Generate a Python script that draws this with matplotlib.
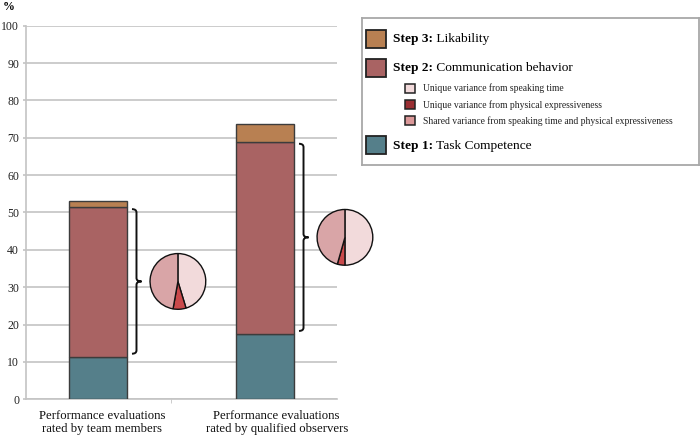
import numpy as np
import matplotlib
matplotlib.use("Agg")
import matplotlib.pyplot as plt
from matplotlib.path import Path
from matplotlib.patches import PathPatch, Rectangle

plt.rcParams['font.family'] = ['Liberation Serif', 'DejaVu Serif']

# data
categories = ["Performance evaluations\nrated by team members",
              "Performance evaluations\nrated by qualified observers"]
step1 = [11.3, 17.4]   # task competence
step2 = [40.2, 51.6]   # communication behavior
step3 = [1.5, 4.6]     # likability
speaking_unique = [45.3, 50.0]
physical_unique = [7.5, 4.4]
shared_variance = [47.2, 45.6]
yticks = [0, 10, 20, 30, 40, 50, 60, 70, 80, 90, 100]

c_step1 = '#557f8a'
c_step2 = '#a96363'
c_step3 = '#b88052'
c_speak = '#f2dadb'
c_phys = '#c9494b'
c_shared = '#d9a5a7'
c_phys_leg = '#9a2f33'
c_shared_leg = '#db9899'
edge = '#3c3c3c'

W, H = 700, 436
fig = plt.figure(figsize=(W / 100, H / 100), dpi=100)
ax = fig.add_axes([26 / W, 1 - 399.3 / H, (337 - 26) / W, (399.3 - 25.7) / H])

x = np.arange(len(categories))
bw = 0.347
s1 = np.array(step1)
s2 = np.array(step2)
s3 = np.array(step3)
ax.bar(x, s1, bw, color=c_step1, edgecolor=edge, linewidth=1.0, zorder=3)
ax.bar(x, s2, bw, bottom=s1, color=c_step2, edgecolor=edge, linewidth=1.0, zorder=3)
ax.bar(x, s3, bw, bottom=s1 + s2, color=c_step3, edgecolor=edge, linewidth=1.0, zorder=3)

ax.set_xlim(-0.431, 1.431)
ax.set_ylim(0, 100)
ax.set_yticks(yticks)
ax.tick_params(axis='y', length=2.5, width=1.2, color='#c4c4c4', pad=2.5,
               labelsize=8.5, labelcolor='#222222')
ax.set_xticks(x + np.array([0.025, 0.07]))
ax.set_xticklabels(categories, fontsize=9.2, linespacing=1.05, color='#111111')
ax.tick_params(axis='x', length=0, pad=8)
ax.set_xticks([0.44], minor=True)
ax.tick_params(axis='x', which='minor', length=3, color='#c4c4c4', direction='out')
ax.grid(axis='y', color='#c8c8c8', linewidth=1.3, zorder=0)
for side in ['top', 'right']:
    ax.spines[side].set_visible(False)
ax.spines['left'].set_color('#c4c4c4')
ax.spines['bottom'].set_color('#c4c4c4')
ax.spines['left'].set_linewidth(1.2)
ax.spines['bottom'].set_linewidth(1.2)

fig.text(9 / W, 1 - 7 / H, '%', fontsize=8.5, fontweight='bold', ha='center', va='center')


def brace(ax, x0, lo, hi):
    xl = x0 + 0.027
    xt = x0 + 0.057
    d = 0.9
    mid = (lo + hi) / 2
    verts = [(x0, hi), (xl, hi), (xl, hi - d),
             (xl, mid + d), (xl, mid), (xt, mid),
             (xl, mid), (xl, mid - d),
             (xl, lo + d), (xl, lo), (x0, lo)]
    codes = [Path.MOVETO, Path.CURVE3, Path.CURVE3,
             Path.LINETO, Path.CURVE3, Path.CURVE3,
             Path.CURVE3, Path.CURVE3,
             Path.LINETO, Path.CURVE3, Path.CURVE3]
    ax.add_patch(PathPatch(Path(verts, codes), fill=False, lw=1.4,
                           edgecolor='#111111', clip_on=False, zorder=4))
    return xt, mid


r_px = 28.7
to_fig = fig.transFigure.inverted()
for i in range(len(categories)):
    lo = s1[i] + 0.9
    hi = s1[i] + s2[i] - 0.6
    xt, mid = brace(ax, x[i] + bw / 2 + 0.03, lo, hi)
    cx, cy = ax.transData.transform((xt + 0.218, mid))
    (fx0, fy0), (fx1, fy1) = to_fig.transform([(cx - r_px, cy - r_px), (cx + r_px, cy + r_px)])
    pax = fig.add_axes([fx0, fy0, fx1 - fx0, fy1 - fy0])
    pax.pie([speaking_unique[i], physical_unique[i], shared_variance[i]],
            colors=[c_speak, c_phys, c_shared], startangle=90, counterclock=False,
            wedgeprops=dict(edgecolor='#111111', linewidth=1.0))
    pax.set_aspect('equal')
    pax.set_xlim(-1.03, 1.03)
    pax.set_ylim(-1.03, 1.03)

# legend box, laid out in pixel units
leg = fig.add_axes([362 / W, 1 - 165 / H, 337 / W, 147 / H])
leg.set_xlim(0, 337)
leg.set_ylim(147, 0)
leg.set_xticks([])
leg.set_yticks([])
for sp in leg.spines.values():
    sp.set_color('#a8a8a8')
    sp.set_linewidth(1.3)

main_items = [(21, c_step3, 'Step 3:', ' Likability'),
              (50, c_step2, 'Step 2:', ' Communication behavior'),
              (127.5, c_step1, 'Step 1:', ' Task Competence')]
for yc, col, bold, rest in main_items:
    leg.add_patch(Rectangle((4, yc - 9), 20, 18, facecolor=col, edgecolor='#222222', lw=1.3))
    t = leg.text(31, yc, bold, fontsize=9.6, fontweight='bold', va='center', ha='left')
    leg.annotate(rest, xy=(1, 0), xycoords=t, va='bottom', ha='left', fontsize=9.6)

sub_items = [(70.5, c_speak, 'Unique variance from speaking time'),
             (86.7, c_phys_leg, 'Unique variance from physical expressiveness'),
             (102.7, c_shared_leg, 'Shared variance from speaking time and physical expressiveness')]
for yc, col, label in sub_items:
    leg.add_patch(Rectangle((43, yc - 4.5), 10, 9, facecolor=col, edgecolor='#222222', lw=1.1))
    leg.text(61, yc, label, fontsize=6.9, va='center', ha='left', color='#222222')

fig.savefig('out.png', dpi=100)
